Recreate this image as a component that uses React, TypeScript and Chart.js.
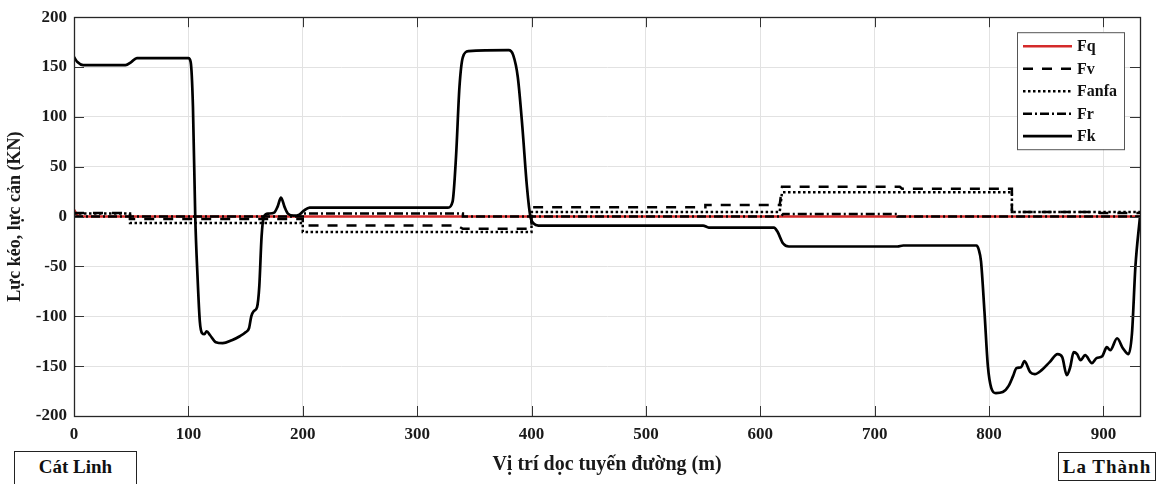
import React, { useEffect, useRef } from 'react';
import { Chart, registerables } from 'chart.js';

Chart.register(...registerables);

// ---- Data (distance along route in m, force in kN) ----
const seriesNames = ['Fq', 'Fv', 'Fanfa', 'Fr', 'Fk'];

const fqPoints: [number, number][] = [
  [0, 7], [2, 3], [4, 0], [932, 0],
];

const fvPoints: [number, number][] = [
  [0, 3.5], [49, 3.5], [49, -2.3], [200, -2.3], [200, -9], [335, -9], [340, -12.3],
  [400, -12.3], [400, 9.3], [552, 9.3], [552, 11.7], [617, 11.7], [619, 30],
  [722, 30], [724, 28], [820, 28], [820, 4.7], [895, 4.7], [897, 3.5], [932, 3.5],
];

const fanfaPoints: [number, number][] = [
  [0, 3], [49, 3], [49, -6.5], [200, -6.5], [200, -15.5], [400, -15.5], [400, 4.5],
  [617, 4.5], [619, 24.3], [820, 24.3], [820, 4.5], [932, 4.5],
];

const frPoints: [number, number][] = [
  [0, 0], [200, 0], [200, 3], [340, 3], [340, 0], [618, 0], [620, 2.7],
  [720, 2.7], [720, 0], [932, 0],
];

const fkPoints: [number, number][] = [
  [0, 160], [3, 155], [8, 152], [45, 152], [50, 155], [55, 159], [100, 159],
  [102, 155], [104, 110], [106, 0], [108, -60], [110, -105], [112, -117], [114, -118],
  [116, -115], [119, -119], [124, -126], [130, -127], [138, -124], [145, -120],
  [150, -116], [153, -112], [155, -100], [157, -95], [160, -91], [162, -70],
  [164, -20], [166, 0], [170, 3], [175, 4], [178, 10], [181, 19], [184, 10],
  [187, 3], [192, 1], [197, 2], [201, 6], [206, 9], [327, 9], [331, 15], [334, 60],
  [337, 130], [340, 160], [345, 166], [380, 167], [384, 162], [388, 140], [392, 90],
  [396, 30], [399, 0], [402, -7], [406, -9], [550, -9], [555, -11], [612, -11],
  [615, -15], [620, -27], [625, -30], [720, -30], [725, -29], [789, -29], [791, -33],
  [793, -45], [796, -95], [799, -150], [802, -172], [806, -177], [812, -176],
  [817, -170], [821, -160],
  [824, -152], [828, -151], [831, -145], [836, -156], [840, -158], [846, -154],
  [853, -146], [860, -138], [864, -141], [868, -159], [871, -151], [874, -136],
  [877, -138], [880, -144], [884, -139], [890, -147], [894, -142], [899, -140],
  [903, -131], [906, -134], [912, -122], [917, -132], [922, -138], [925, -117],
  [928, -50], [932, 0],
];

const xMin = 0;
const xMax = 932;
const xStep = 100;
const yMin = -200;
const yMax = 200;
const yStep = 50;

const xTitle = 'Vị trí dọc tuyến đường (m)';
const yTitle = 'Lực kéo, lực cản (KN)';
const startStation = 'Cát Linh';
const endStation = 'La Thành';

const FONT = '"Liberation Serif", "Times New Roman", serif';

const toXY = (pts: [number, number][]) => pts.map(([x, y]) => ({ x, y }));

const frameAndLegend = {
  id: 'frameAndLegend',
  afterDraw(chart: any) {
    const { ctx, chartArea: a, scales } = chart;
    ctx.save();
    // inward ticks on all four sides
    ctx.strokeStyle = '#333';
    ctx.lineWidth = 1;
    const tl = 10;
    scales.x.ticks.forEach((t: any) => {
      const px = Math.round(scales.x.getPixelForValue(t.value)) + 0.5;
      ctx.beginPath();
      ctx.moveTo(px, a.bottom); ctx.lineTo(px, a.bottom - tl);
      ctx.moveTo(px, a.top); ctx.lineTo(px, a.top + tl);
      ctx.stroke();
    });
    scales.y.ticks.forEach((t: any) => {
      const py = Math.round(scales.y.getPixelForValue(t.value)) + 0.5;
      ctx.beginPath();
      ctx.moveTo(a.left, py); ctx.lineTo(a.left + tl, py);
      ctx.moveTo(a.right, py); ctx.lineTo(a.right - tl, py);
      ctx.stroke();
    });
    // frame
    ctx.lineWidth = 1.3;
    ctx.strokeStyle = '#262626';
    ctx.strokeRect(Math.round(a.left) + 0.5, Math.round(a.top) + 0.5, Math.round(a.right - a.left), Math.round(a.bottom - a.top));

    // legend
    const bx = a.right - 123, by = a.top + 15, bw = 107, bh = 117;
    ctx.fillStyle = '#ffffff';
    ctx.fillRect(bx, by, bw, bh);
    ctx.strokeStyle = '#555';
    ctx.lineWidth = 1;
    ctx.strokeRect(bx + 0.5, by + 0.5, bw, bh);
    seriesNames.forEach((name, i) => {
      const ds = chart.data.datasets.find((d: any) => d.label === name);
      if (!ds) return;
      const yy = by + 14 + i * 22.5;
      ctx.save();
      ctx.strokeStyle = ds.borderColor;
      ctx.lineWidth = ds.borderWidth;
      ctx.setLineDash(ds.borderDash || []);
      ctx.beginPath();
      ctx.moveTo(bx + 6, yy);
      ctx.lineTo(bx + 55, yy);
      ctx.stroke();
      ctx.restore();
      ctx.fillStyle = '#111';
      ctx.font = `bold 16px ${FONT}`;
      ctx.textAlign = 'left';
      ctx.textBaseline = 'middle';
      ctx.fillText(name, bx + 60, yy + 1);
    });
    ctx.restore();
  },
};

export default function App() {
  const ref = useRef<HTMLCanvasElement | null>(null);

  useEffect(() => {
    if (!ref.current) return;
    const chart = new Chart(ref.current, {
      type: 'line',
      data: {
        datasets: [
          {
            label: 'Fk', data: toXY(fkPoints), borderColor: '#000000', borderWidth: 2.7,
            cubicInterpolationMode: 'monotone', order: 0,
          },
          {
            label: 'Fr', data: toXY(frPoints), borderColor: '#000000', borderWidth: 2.5,
            borderDash: [9, 3, 2, 3], tension: 0, order: 1,
          },
          {
            label: 'Fv', data: toXY(fvPoints), borderColor: '#000000', borderWidth: 2.5,
            borderDash: [10, 9], tension: 0, order: 2,
          },
          {
            label: 'Fanfa', data: toXY(fanfaPoints), borderColor: '#000000', borderWidth: 2.5,
            borderDash: [2.5, 2.5], tension: 0, order: 3,
          },
          {
            label: 'Fq', data: toXY(fqPoints), borderColor: '#d42a2a', borderWidth: 2.5,
            tension: 0, order: 10,
          },
        ] as any,
      },
      options: {
        animation: false,
        responsive: false,
        maintainAspectRatio: false,
        layout: { padding: { top: 16, right: 29, left: 0, bottom: 0 } },
        elements: { point: { radius: 0 } },
        plugins: { legend: { display: false }, tooltip: { enabled: false } },
        scales: {
          x: {
            type: 'linear',
            min: xMin,
            max: xMax,
            ticks: {
              stepSize: xStep,
              includeBounds: false,
              maxRotation: 0,
              padding: 8,
              color: '#1a1a1a',
              font: { family: FONT, size: 17, weight: 'bold' },
            },
            grid: { color: '#e2e2e2', drawTicks: false },
            border: { display: true, color: '#262626' },
            title: {
              display: true,
              text: xTitle,
              color: '#1a1a1a',
              font: { family: FONT, size: 20, weight: 'bold' },
              padding: { top: 0, bottom: 7 },
            },
            afterFit: (s: any) => { s.height = 68; },
          },
          y: {
            type: 'linear',
            min: yMin,
            max: yMax,
            ticks: {
              stepSize: yStep,
              padding: 7,
              color: '#1a1a1a',
              font: { family: FONT, size: 17, weight: 'bold' },
            },
            grid: { color: '#e2e2e2', drawTicks: false },
            border: { display: true, color: '#262626' },
            title: {
              display: true,
              text: yTitle,
              color: '#1a1a1a',
              font: { family: FONT, size: 18, weight: 'bold' },
              padding: { top: 5, bottom: 0 },
            },
            afterFit: (s: any) => { s.width = 74; },
          },
        },
      } as any,
      plugins: [frameAndLegend],
    });
    return () => chart.destroy();
  }, []);

  const boxStyle: React.CSSProperties = {
    position: 'absolute',
    border: '1px solid #222',
    background: '#fff',
    fontFamily: FONT,
    fontWeight: 'bold',
    fontSize: 19,
    color: '#111',
    display: 'flex',
    alignItems: 'center',
    justifyContent: 'center',
    boxSizing: 'border-box',
  };

  return (
    <div style={{ position: 'fixed', left: 0, top: 0, width: 1169, height: 484, background: '#fff', overflow: 'hidden' }}>
      <canvas ref={ref} width={1169} height={484} style={{ width: 1169, height: 484, display: 'block' }} />
      <div style={{ ...boxStyle, left: 14, top: 451, width: 123, height: 36, paddingBottom: 4 }}>{startStation}</div>
      <div style={{ ...boxStyle, left: 1058, top: 452, width: 98, height: 29, letterSpacing: 1 }}>{endStation}</div>
    </div>
  );
}
